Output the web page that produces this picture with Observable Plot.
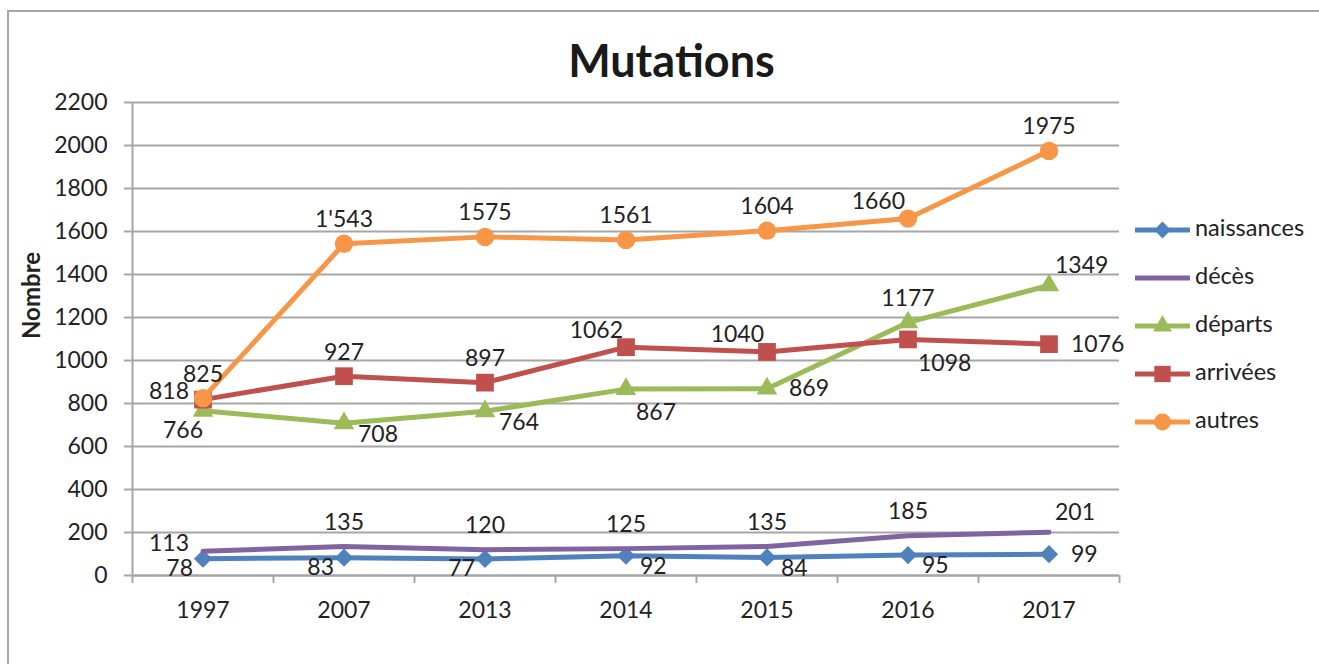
<!DOCTYPE html>
<html><head><meta charset="utf-8">
<script src="https://cdn.jsdelivr.net/npm/d3@7"></script>
<script src="https://cdn.jsdelivr.net/npm/@observablehq/plot@0.6"></script>
<style>
html,body{margin:0;padding:0;background:#fff;overflow:hidden;}
#wrap{position:relative;width:1319px;height:664px;overflow:hidden;font-family:Lato,sans-serif;color:#222;background:#fff;}
#frameTop{position:absolute;left:7px;top:10px;width:1312px;height:2px;background:#a6a6a6;}
#frameLeft{position:absolute;left:7px;top:10px;width:2px;height:654px;background:#a6a6a6;}
#title{position:relative;height:52px;padding-top:38px;width:1319px;padding-left:12px;box-sizing:content-box;text-align:center;font:bold 45px/45px Lato,sans-serif;color:#1a1a1a;}
#chart{position:relative;height:574px;}
#legend{position:absolute;left:1135px;top:206px;}
.item{display:flex;align-items:center;height:48px;}
.item span{font-size:23.5px;line-height:48px;position:relative;top:-3px;margin-left:4px;color:#222;}
</style></head>
<body>
<div id="wrap">
  <div id="frameTop"></div>
  <div id="frameLeft"></div>
  <div id="title">Mutations</div>
  <div id="chart"></div>
  <div id="legend"></div>
</div>
<script>
// ---- data ----
const years = ["1997", "2007", "2013", "2014", "2015", "2016", "2017"];
const naissances = [78, 83, 77, 92, 84, 95, 99];
const deces = [113, 135, 120, 125, 135, 185, 201];
const departs = [766, 708, 764, 867, 869, 1177, 1349];
const arrivees = [818, 927, 897, 1062, 1040, 1098, 1076];
const autres = [825, 1543, 1575, 1561, 1604, 1660, 1975];
const autresLabels = ["825", "1'543", "1575", "1561", "1604", "1660", "1975"];
const seriesNames = ["naissances", "décès", "départs", "arrivées", "autres"];
const yTicks = [0, 200, 400, 600, 800, 1000, 1200, 1400, 1600, 1800, 2000, 2200];

// ---- styles ----
const seriesColors = ["#4F81BD", "#8064A2", "#9BBB59", "#C0504D", "#F79646"];
const seriesSymbols = ["diamond2", null, "triangle", "square", "circle"];
const markerR = [8.2, 0, 7.6, 10, 9.2];
// data-label placement codes (t=top, b=bottom, l=left, r=right)
const placeNaissances = ["bl", "bl", "bl", "br", "br", "br", "r"];
const placeDeces = ["l", "t", "t", "t", "t", "t", "tr"];
const placeDeparts = ["b", "br", "br", "br2", "r", "t", "tr"];
const placeArrivees = ["l", "t", "t", "tl", "tl", "br2", "r"];
const placeAutres = ["t", "t", "t", "t", "t", "tl", "t"];
const placeStyle = {
  t: {dx: 0, dy: -24, textAnchor: "middle"},
  tl: {dx: -3, dy: -17, textAnchor: "end"},
  tr: {dx: 6, dy: -20, textAnchor: "start"},
  l: {dx: -14, dy: -8, textAnchor: "end"},
  r: {dx: 22, dy: 0, textAnchor: "start"},
  bl: {dx: -10, dy: 10, textAnchor: "end"},
  br: {dx: 14, dy: 11, textAnchor: "start"},
  br2: {dx: 10, dy: 24, textAnchor: "start"},
  b: {dx: -20, dy: 20, textAnchor: "middle"}
};

const seriesValues = [naissances, deces, departs, arrivees, autres];
const seriesLabels = [null, null, null, null, autresLabels];
const seriesPlaces = [placeNaissances, placeDeces, placeDeparts, placeArrivees, placeAutres];

const rows = [];
seriesNames.forEach((s, k) => {
  seriesValues[k].forEach((v, i) => {
    rows.push({
      series: s, k, i, x: i + 0.5, year: years[i], value: v,
      label: seriesLabels[k] ? seriesLabels[k][i] : String(v),
      place: seriesPlaces[k][i]
    });
  });
});

const axisColor = "#a6a6a6";
const textColor = "#222";

const marks = [
  Plot.gridY(yTicks, {stroke: axisColor, strokeOpacity: 1, strokeWidth: 2}),
  Plot.axisY(yTicks, {tickSize: 8, tickPadding: 17, tickFormat: d => String(d), stroke: axisColor, strokeWidth: 2, fill: textColor, label: null}),
  Plot.ruleX([0], {stroke: axisColor, strokeWidth: 2}),
  Plot.ruleY([0], {stroke: axisColor, strokeWidth: 2}),
  Plot.axisX(d3.range(years.length + 1), {tickSize: 8, tickFormat: () => "", stroke: axisColor, strokeWidth: 2, label: null}),
  Plot.axisX(years.map((d, i) => i + 0.5), {tickSize: 0, tickPadding: 26, tickFormat: v => years[Math.floor(v)], fill: textColor, label: null}),
  Plot.text(["Nombre"], {frameAnchor: "left", text: d => d, rotate: -90, dx: -100, fontWeight: "bold", fontSize: 24, fill: textColor})
];

seriesNames.forEach((s, k) => {
  const d = rows.filter(r => r.series === s);
  marks.push(Plot.line(d, {x: "x", y: "value", stroke: "series", strokeWidth: 5, strokeLinejoin: "round"}));
  if (seriesSymbols[k]) {
    marks.push(Plot.dot(d, {x: "x", y: "value", fill: "series", symbol: () => seriesSymbols[k], r: markerR[k], stroke: "none"}));
  }
});

Object.entries(placeStyle).forEach(([code, st]) => {
  marks.push(Plot.text(rows.filter(r => r.place === code), {
    x: "x", y: "value", text: "label", dx: st.dx, dy: st.dy, textAnchor: st.textAnchor, fill: textColor
  }));
});

const chart = Plot.plot({
  width: 1319, height: 574,
  marginLeft: 132, marginRight: 200, marginTop: 12, marginBottom: 89,
  x: {domain: [0, years.length], axis: null},
  y: {domain: [0, 2200], axis: null},
  color: {domain: seriesNames, range: seriesColors},
  symbol: {domain: ["diamond2", "triangle", "square", "circle"], range: ["diamond2", "triangle", "square", "circle"]},
  style: {fontFamily: "Lato, sans-serif", fontSize: "23px", color: textColor, background: "transparent", overflow: "visible"},
  marks
});
document.getElementById("chart").appendChild(chart);

// ---- legend ----
const symMap = {diamond2: d3.symbolDiamond2, triangle: d3.symbolTriangle, square: d3.symbolSquare, circle: d3.symbolCircle};
const legend = d3.select("#legend");
seriesNames.forEach((s, k) => {
  const item = legend.append("div").attr("class", "item");
  const svg = item.append("svg").attr("width", 56).attr("height", 48);
  svg.append("line").attr("x1", 0).attr("x2", 55).attr("y1", 24).attr("y2", 24)
    .attr("stroke", seriesColors[k]).attr("stroke-width", 5);
  if (seriesSymbols[k]) {
    svg.append("path")
      .attr("d", d3.symbol(symMap[seriesSymbols[k]], Math.PI * markerR[k] * markerR[k] * 0.85)())
      .attr("transform", "translate(27.5,24)")
      .attr("fill", seriesColors[k]);
  }
  item.append("span").text(s);
});
</script>
</body></html>
